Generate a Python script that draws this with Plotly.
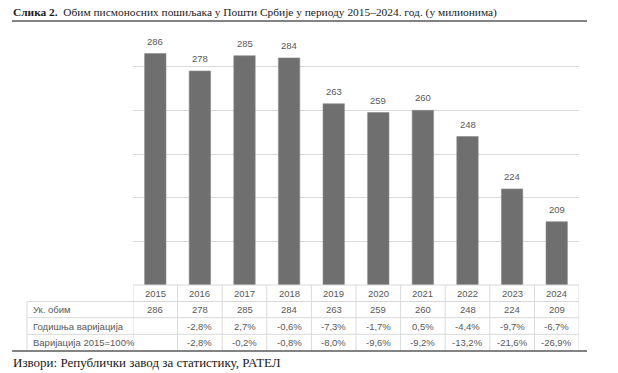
import plotly.graph_objects as go

# ---- data ----
years = [2015, 2016, 2017, 2018, 2019, 2020, 2021, 2022, 2023, 2024]
volume = [286, 278, 285, 284, 263, 259, 260, 248, 224, 209]
annual_var = [None, -2.8, 2.7, -0.6, -7.3, -1.7, 0.5, -4.4, -9.7, -6.7]
var_2015 = [None, -2.8, -0.2, -0.8, -8.0, -9.6, -9.2, -13.2, -21.6, -26.9]
row_labels = ["Ук. обим", "Годишња варијација", "Варијација 2015=100%"]
title_bold = "Слика 2."
title_rest = "Обим писмоносних пошиљака у Пошти Србије у периоду 2015–2024. год. (у милионима)"
source_text = "Извори: Републички завод за статистику, РАТЕЛ"


def pct(v):
    if v is None:
        return ""
    return f"{v:.1f}%".replace(".", ",")


W, H = 618, 373
ML, MR, MT, MB = 133, 39, 23, 88
PW = W - ML - MR
PH = H - MT - MB


def px_x(px):
    return (px - ML) / PW


def px_y(py):
    return (H - MB - py) / PH


SANS = "Liberation Sans, Arial, sans-serif"
SERIF = "Liberation Serif, Times New Roman, serif"
TXT = "#595959"
GRID = "#d9d9d9"

fig = go.Figure()
fig.add_trace(go.Bar(
    x=years, y=volume, width=0.48,
    marker=dict(color="#6f6f6f", line=dict(color="#8a8a8a", width=0.6)),
    hoverinfo="skip",
))

# table geometry (paper coordinates)
row_edges = [px_y(p) for p in (285, 301.5, 317.7, 334.3, 351)]
label_left = px_x(27)
shapes = []
shapes.append(dict(type="line", xref="paper", yref="paper", x0=0, x1=1,
                   y0=row_edges[0], y1=row_edges[0], line=dict(color=GRID, width=1)))
for ry in row_edges[1:4]:
    shapes.append(dict(type="line", xref="paper", yref="paper", x0=label_left, x1=1,
                       y0=ry, y1=ry, line=dict(color=GRID, width=1)))
shapes.append(dict(type="line", xref="paper", yref="paper", x0=label_left, x1=label_left,
                   y0=row_edges[1], y1=row_edges[4], line=dict(color=GRID, width=1)))
bounds = [y - 0.5 for y in years] + [years[-1] + 0.5]
for b in bounds:
    shapes.append(dict(type="line", xref="x", yref="paper", x0=b, x1=b,
                       y0=row_edges[4], y1=row_edges[0], line=dict(color=GRID, width=1)))
rule_l, rule_r = px_x(12), px_x(587)
shapes.append(dict(type="line", xref="paper", yref="paper", x0=rule_l, x1=rule_r,
                   y0=row_edges[4], y1=row_edges[4], line=dict(color="#5a5a5a", width=1.5)))
shapes.append(dict(type="line", xref="paper", yref="paper", x0=rule_l, x1=rule_r,
                   y0=px_y(21), y1=px_y(21), line=dict(color="#5a5a5a", width=1.5)))

annotations = []
# value labels above bars
for yr, v in zip(years, volume):
    annotations.append(dict(x=yr, y=v, xref="x", yref="y", text=str(v), showarrow=False,
                            xanchor="center", yanchor="bottom", yshift=5,
                            font=dict(family=SANS, size=9.5, color=TXT)))
centers = [(row_edges[i] + row_edges[i + 1]) / 2 for i in range(4)]
rows = [[str(y) for y in years], [str(v) for v in volume],
        [pct(v) for v in annual_var], [pct(v) for v in var_2015]]
for ri, row in enumerate(rows):
    for yr, t in zip(years, row):
        if t:
            annotations.append(dict(x=yr, y=centers[ri], xref="x", yref="paper",
                                    text=t, showarrow=False, xanchor="center", yanchor="middle",
                                    font=dict(family=SANS, size=9.5, color=TXT)))
for ri, lab in enumerate(row_labels):
    annotations.append(dict(x=px_x(31), y=centers[ri + 1], xref="paper", yref="paper",
                            text=lab, showarrow=False, xanchor="left", yanchor="middle",
                            font=dict(family=SANS, size=9.5, color=TXT)))
annotations.append(dict(x=px_x(11), y=px_y(12.5), xref="paper", yref="paper",
                        text=f"<b>{title_bold}</b>  {title_rest}", showarrow=False,
                        xanchor="left", yanchor="middle",
                        font=dict(family=SERIF, size=11.4, color="#1a1a1a")))
annotations.append(dict(x=px_x(11), y=px_y(362), xref="paper", yref="paper",
                        text=source_text, showarrow=False,
                        xanchor="left", yanchor="middle",
                        font=dict(family=SERIF, size=13, color="#1a1a1a")))

fig.update_layout(
    width=W, height=H,
    margin=dict(l=ML, r=MR, t=MT, b=MB),
    paper_bgcolor="white", plot_bgcolor="white",
    showlegend=False,
    xaxis=dict(range=[years[0] - 0.5, years[-1] + 0.5], showticklabels=False,
               showgrid=False, zeroline=False, showline=False, ticks=""),
    yaxis=dict(range=[180, 300], tickvals=[200, 220, 240, 260, 280],
               showticklabels=False, showgrid=True, gridcolor=GRID, gridwidth=1,
               zeroline=False, showline=False, ticks=""),
    shapes=shapes, annotations=annotations,
)

fig.write_html("out.html", config={"displayModeBar": False},
               post_script="document.body.style.margin='0';")
